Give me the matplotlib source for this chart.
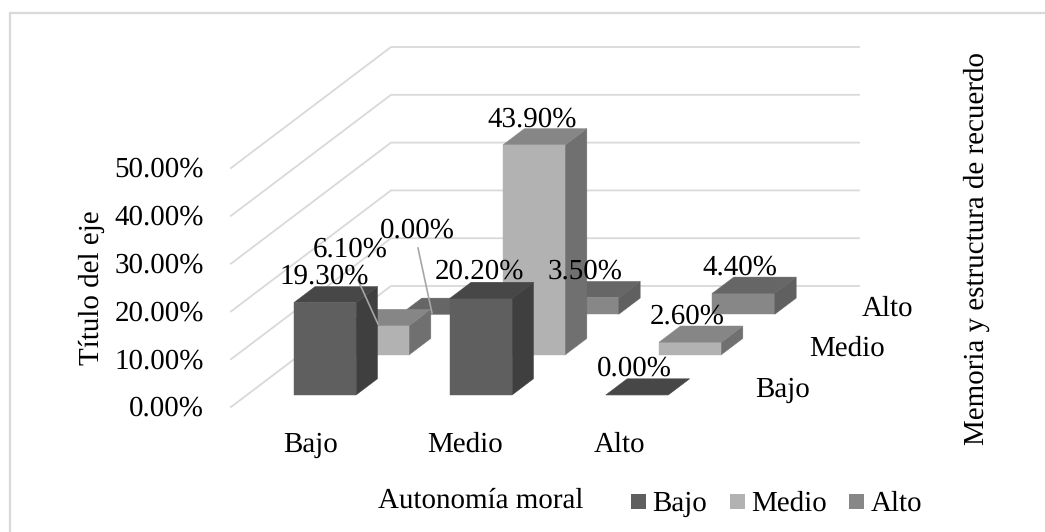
import matplotlib
matplotlib.use("Agg")
import matplotlib.pyplot as plt
from matplotlib.patches import Polygon, Rectangle

plt.rcParams['font.family'] = ['Liberation Serif', 'DejaVu Serif']
plt.rcParams['text.hinting'] = 'no_hinting'
plt.rcParams['text.hinting_factor'] = 1

categories = ['Bajo', 'Medio', 'Alto']
rows = ['Bajo', 'Medio', 'Alto']
val_bajo = [19.3, 20.2, 0.0]
val_medio = [6.1, 43.9, 2.6]
val_alto = [0.0, 3.5, 4.4]
series = [val_bajo, val_medio, val_alto]
y_ticks = [0, 10, 20, 30, 40, 50]

# faces: front, side, top
shades = [('#5f5f5f', '#3f3f3f', '#474747'),
          ('#b2b2b2', '#707070', '#868686'),
          ('#878787', '#606060', '#666666')]
# label centres per (row, column), in pixels
label_pos = {(0, 0): (324, 277), (1, 0): (350, 250), (2, 0): (417, 231),
             (0, 1): (479, 272), (1, 1): (532, 120), (2, 1): (585, 272),
             (0, 2): (634, 369), (1, 2): (687, 317), (2, 2): (740, 268)}

W, H = 1045, 532
FS = 20.7
fig = plt.figure(figsize=(W / 100, H / 100), dpi=100, facecolor='white')
ax = fig.add_axes([0, 0, 1, 1])
ax.set_xlim(0, W)
ax.set_ylim(H, 0)
ax.axis('off')


def proj(x, d, z):
    """Oblique projection: category x, row depth d, value z -> pixels."""
    return (231 + 156 * x + 53.33 * d, 407 - 4.78 * z - 40.33 * d)


ax.plot([10, 10, W], [H, 13, 13], color='#d9d9d9', lw=1.6, solid_joinstyle='miter')

for t in y_ticks:
    pts = [proj(0, 0, t), proj(0, 3, t), proj(3, 3, t)]
    ax.plot(*zip(*pts), color='#d9d9d9', lw=1.3, solid_joinstyle='miter')
    ax.text(204, proj(0, 0, t)[1] + 2, f'{t:.2f}%', ha='right', va='center', fontsize=FS)

BW = 0.4  # bar width as fraction of slot
G = (1 - BW) / 2


def bar(i, j, v, cols):
    x0, x1 = i + G, i + G + BW
    d0, d1 = j + G, j + G + BW
    front = [proj(x0, d0, 0), proj(x1, d0, 0), proj(x1, d0, v), proj(x0, d0, v)]
    side = [proj(x1, d0, 0), proj(x1, d1, 0), proj(x1, d1, v), proj(x1, d0, v)]
    top = [proj(x0, d0, v), proj(x1, d0, v), proj(x1, d1, v), proj(x0, d1, v)]
    for poly, c in zip((front, side, top), cols):
        ax.add_patch(Polygon(poly, closed=True, fc=c, ec=c, lw=0.3, zorder=3))


for j in reversed(range(3)):
    for i in range(3):
        bar(i, j, series[j][i], shades[j])

for (j, i), (px, py) in label_pos.items():
    ax.text(px, py, f'{series[j][i]:.2f}%', ha='center', va='center', fontsize=FS, zorder=6)

# leader lines
ax.plot([358, 378], [280, 324], color='#a6a6a6', lw=1.2, zorder=5)
ax.plot([418, 432], [248, 313], color='#a6a6a6', lw=1.2, zorder=5)

for name, px in zip(categories, (311, 465, 620)):
    ax.text(px, 445, name, ha='center', va='center', fontsize=FS)
for name, (px, py) in zip(rows, ((783, 390), (847, 349), (888, 309))):
    ax.text(px, py, name, ha='center', va='center', fontsize=FS)

ax.text(92, 288, 'Título del eje', rotation=90, ha='center', va='center', fontsize=21)
ax.text(977, 249, 'Memoria y estructura de recuerdo', rotation=90, ha='center', va='center', fontsize=21)
ax.text(481, 508, 'Autonomía moral', ha='center', va='baseline', fontsize=FS)

for name, sq, tx, sh in zip(rows, (631, 730, 849), (652, 751, 871), shades):
    ax.add_patch(Rectangle((sq, 494), 15, 15, fc=sh[0], ec='none'))
    ax.text(tx, 511, name, ha='left', va='baseline', fontsize=FS)

fig.savefig('out.png', dpi=100)
